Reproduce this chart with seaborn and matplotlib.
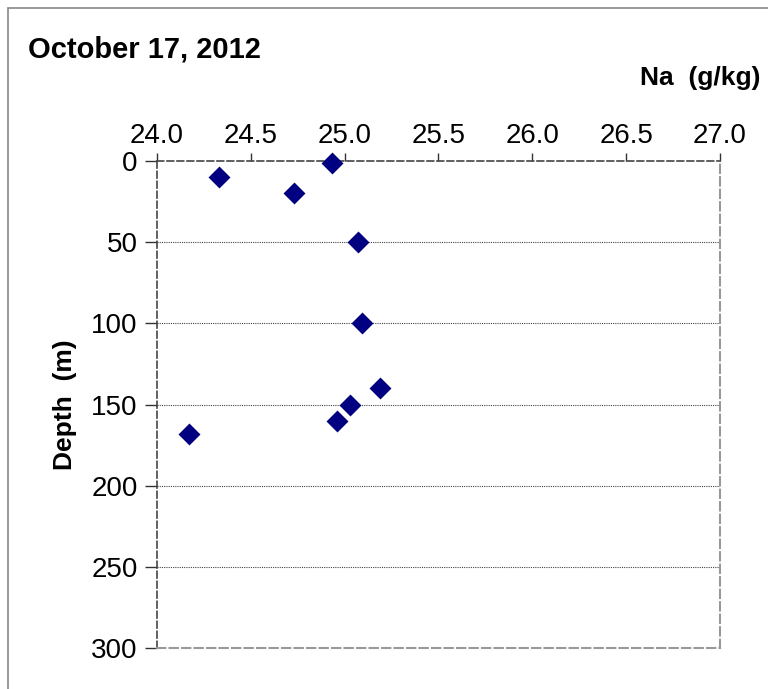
import numpy as np
import pandas as pd
import seaborn as sns
import matplotlib
matplotlib.use('Agg')
from matplotlib import pyplot as plt
from matplotlib.lines import Line2D

# data
na = [24.93, 24.33, 24.73, 25.07, 25.09, 25.19, 25.03, 24.96, 24.17]
depth = [1, 10, 20, 50, 100, 140, 150, 160, 168]
x_ticks = [24.0, 24.5, 25.0, 25.5, 26.0, 26.5, 27.0]
y_ticks = [0, 50, 100, 150, 200, 250, 300]

df = pd.DataFrame({'Na': na, 'Depth': depth})

sns.set_style('white')
plt.rcParams['font.family'] = ['Liberation Sans', 'DejaVu Sans']
plt.rcParams['text.color'] = 'black'
plt.rcParams['xtick.color'] = 'black'
plt.rcParams['ytick.color'] = 'black'
plt.rcParams['axes.labelcolor'] = 'black'

fig = plt.figure(figsize=(7.68, 6.89), dpi=100)
ax = fig.add_axes([0.2044, 0.0595, 0.7331, 0.7068])

# grid lines for depth
for yv in y_ticks[1:-1]:
    ax.axhline(yv, color='#444444', lw=0.8, ls=(0, (1, 1)), zorder=1)

sns.scatterplot(data=df, x='Na', y='Depth', ax=ax, marker='D', s=125,
                color='#000080', edgecolor='#000080', linewidth=0, zorder=3,
                clip_on=False)

ax.set_xlim(24.0, 27.0)
ax.set_ylim(300, 0)
ax.set_xticks(x_ticks)
ax.set_xticklabels([f'{v:.1f}' for v in x_ticks])
ax.set_yticks(y_ticks)
ax.xaxis.tick_top()
ax.tick_params(axis='x', top=True, bottom=False, direction='out', length=6,
               width=1, color='#333333', labelsize=20, pad=3)
ax.tick_params(axis='y', left=True, direction='out', length=9, width=1,
               color='#333333', labelsize=20, pad=5)
ax.set_xlabel('')
ax.set_ylabel('Depth  (m)', fontsize=19, fontweight='bold', labelpad=10)

for side in ['left', 'top']:
    ax.spines[side].set_linestyle((0, (4, 2)))
    ax.spines[side].set_color('#444444')
    ax.spines[side].set_linewidth(1.2)
for side in ['right', 'bottom']:
    ax.spines[side].set_linestyle((0, (4, 2)))
    ax.spines[side].set_color('#999999')
    ax.spines[side].set_linewidth(1.5)

fig.text(28 / 768, 1 - 50 / 689, 'October 17, 2012', fontsize=21,
         fontweight='bold', va='center', ha='left')
fig.text(760 / 768, 1 - 78 / 689, 'Na  (g/kg)', fontsize=19,
         fontweight='bold', va='center', ha='right')

# outer frame (left and top edges)
fig.add_artist(Line2D([8 / 768, 8 / 768], [0, 1 - 8 / 689],
                      transform=fig.transFigure, color='#888888', lw=1.2))
fig.add_artist(Line2D([8 / 768, 1], [1 - 8 / 689, 1 - 8 / 689],
                      transform=fig.transFigure, color='#888888', lw=1.2))

fig.savefig('out.png', dpi=100)
